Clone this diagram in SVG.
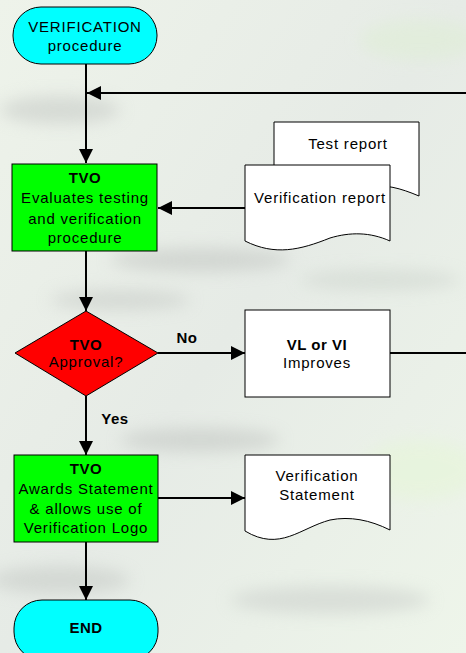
<svg xmlns="http://www.w3.org/2000/svg" width="466" height="653" viewBox="0 0 466 653">
<defs>
<linearGradient id="bg" x1="0" y1="0" x2="1" y2="1">
<stop offset="0" stop-color="#eef3ea"/>
<stop offset="0.5" stop-color="#e6ebe6"/>
<stop offset="1" stop-color="#eef5ea"/>
</linearGradient>
<filter id="blur" x="-50%" y="-50%" width="200%" height="200%"><feGaussianBlur stdDeviation="8"/></filter>
<marker id="ah" viewBox="0 0 10 10" refX="10" refY="5" markerWidth="14" markerHeight="14" markerUnits="userSpaceOnUse" orient="auto">
<path d="M0,0 L10,5 L0,10 z" fill="#000"/>
</marker>
<style>
.t{font-family:"Liberation Sans",Arial,sans-serif;font-size:15px;fill:#000;text-anchor:middle;letter-spacing:0.8px}
.b{font-weight:bold;letter-spacing:0.5px}
.ln{stroke:#000;stroke-width:2;fill:none}
.term{fill:#00ffff;stroke:#000;stroke-width:1}
.green{fill:#00ff00;stroke:#000;stroke-width:1}
.doc{fill:#fff;stroke:#000;stroke-width:1}
</style>
</defs>
<rect width="466" height="653" fill="url(#bg)"/>
<g filter="url(#blur)" opacity="0.6">
<ellipse cx="60" cy="110" rx="60" ry="14" fill="#c8ccc8"/>
<ellipse cx="200" cy="260" rx="90" ry="12" fill="#c4c8c4"/>
<ellipse cx="380" cy="280" rx="80" ry="10" fill="#cfd6cf"/>
<ellipse cx="120" cy="300" rx="70" ry="10" fill="#c8ccc8"/>
<ellipse cx="200" cy="440" rx="80" ry="12" fill="#c4c8c4"/>
<ellipse cx="60" cy="580" rx="70" ry="14" fill="#c8ccc8"/>
<ellipse cx="330" cy="600" rx="100" ry="14" fill="#cdd2cd"/>
<ellipse cx="420" cy="40" rx="60" ry="20" fill="#dfeed6"/>
<ellipse cx="420" cy="470" rx="60" ry="30" fill="#e6f6d8"/>
</g>
<g id="connectors">
<line class="ln" x1="86" y1="64" x2="86" y2="163" marker-end="url(#ah)"/>
<line class="ln" x1="466" y1="93" x2="87" y2="93" marker-end="url(#ah)"/>
<line class="ln" x1="245" y1="208" x2="158" y2="208" marker-end="url(#ah)"/>
<line class="ln" x1="86" y1="251" x2="86" y2="311" marker-end="url(#ah)"/>
<line class="ln" x1="158" y1="353" x2="245" y2="353" marker-end="url(#ah)"/>
<line class="ln" x1="390" y1="353" x2="466" y2="353"/>
<line class="ln" x1="86" y1="396" x2="86" y2="455" marker-end="url(#ah)"/>
<line class="ln" x1="158" y1="498" x2="245" y2="498" marker-end="url(#ah)"/>
<line class="ln" x1="86" y1="542" x2="86" y2="600" marker-end="url(#ah)"/>
<text class="t b" x="187" y="343">No</text>
<text class="t b" x="115" y="424">Yes</text>
</g>
<g id="start">
<rect class="term" x="13" y="7" width="144" height="57" rx="28" ry="28"/>
<text class="t" x="85" y="32">VERIFICATION</text>
<text class="t" x="85" y="51">procedure</text>
</g>
<g id="test-report">
<path class="doc" d="M274,122 H419 V196 C400,188 385,184 370,187 C355,190 345,189 330,186 L274,186 Z"/>
<text class="t" x="348" y="149">Test report</text>
</g>
<g id="verification-report">
<path class="doc" d="M245,165 H390 V241 C370,232 350,232 330,238 C300,250 275,256 245,241 Z"/>
<text class="t" x="320" y="203">Verification report</text>
</g>
<g id="evaluate">
<rect class="green" x="12" y="164" width="145" height="87"/>
<text class="t b" x="85" y="183">TVO</text>
<text class="t" x="85" y="203">Evaluates testing</text>
<text class="t" x="85" y="224">and verification</text>
<text class="t" x="85" y="243">procedure</text>
</g>
<g id="approval">
<polygon points="86,311 158,353 86,396 15,353" fill="#ff0000" stroke="#000" stroke-width="1"/>
<text class="t b" x="86" y="350">TVO</text>
<text class="t" x="86" y="367">Approval?</text>
</g>
<g id="improves">
<rect x="245" y="310" width="145" height="87" fill="#fff" stroke="#000" stroke-width="1"/>
<text class="t b" x="317" y="350">VL or VI</text>
<text class="t" x="317" y="368">Improves</text>
</g>
<g id="award">
<rect class="green" x="14" y="455" width="144" height="87"/>
<text class="t b" x="86" y="474">TVO</text>
<text class="t" x="86" y="494">Awards Statement</text>
<text class="t" x="86" y="514">&amp; allows use of</text>
<text class="t" x="86" y="533">Verification Logo</text>
</g>
<g id="statement">
<path class="doc" d="M245,455 H390 V530 C370,520 350,516 330,520 C300,528 280,552 245,531 Z"/>
<text class="t" x="317" y="481">Verification</text>
<text class="t" x="317" y="500">Statement</text>
</g>
<g id="end">
<rect class="term" x="14" y="600" width="144" height="60" rx="28" ry="28"/>
<text class="t b" x="86" y="633">END</text>
</g>
</svg>
